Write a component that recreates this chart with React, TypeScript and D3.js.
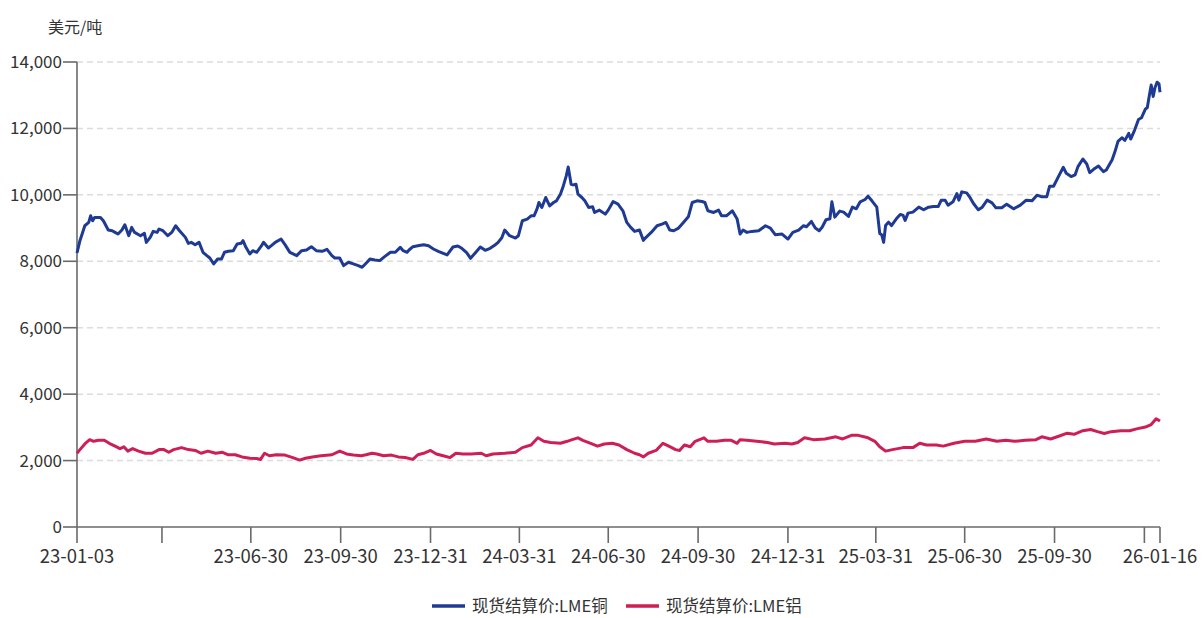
import React from "react";
import * as d3 from "d3";

// LME copper spot settlement, USD/t
const copperDates = [
  // 2023
  "23-01-03","23-01-06","23-01-11","23-01-15","23-01-17","23-01-19","23-01-21","23-01-27","23-01-30",
  "23-02-04","23-02-08","23-02-11","23-02-14","23-02-18","23-02-21","23-02-25","23-02-28",
  "23-03-03","23-03-09","23-03-13","23-03-15","23-03-19","23-03-22","23-03-26","23-03-28",
  "23-04-01","23-04-06","23-04-10","23-04-14","23-04-18","23-04-24","23-04-27","23-04-30",
  "23-05-04","23-05-08","23-05-12","23-05-16","23-05-19","23-05-23","23-05-27","23-05-31",
  "23-06-03","23-06-07","23-06-12","23-06-16","23-06-20","23-06-22","23-06-25","23-06-29",
  "23-07-02","23-07-06","23-07-11","23-07-13","23-07-18","23-07-21","23-07-25","23-07-31",
  "23-08-04","23-08-09","23-08-16","23-08-21","23-08-26","23-08-31",
  "23-09-05","23-09-11","23-09-16","23-09-21","23-09-24","23-09-29",
  "23-10-03","23-10-08","23-10-13","23-10-18","23-10-22","23-10-27","23-10-30",
  "23-11-04","23-11-09","23-11-14","23-11-20","23-11-25","23-11-30",
  "23-12-03","23-12-07","23-12-09","23-12-13","23-12-18","23-12-24","23-12-29",
  // 2024
  "24-01-03","24-01-08","24-01-17","24-01-23","24-01-28",
  "24-02-01","24-02-06","24-02-10","24-02-15","24-02-20","24-02-25",
  "24-03-01","24-03-06","24-03-09","24-03-13","24-03-16","24-03-21","24-03-27","24-03-30",
  "24-04-03","24-04-08","24-04-12","24-04-15","24-04-18","24-04-20","24-04-23","24-04-27",
  "24-05-01","24-05-05","24-05-08","24-05-12","24-05-15","24-05-18","24-05-20","24-05-23","24-05-25","24-05-28","24-05-30",
  "24-06-03","24-06-06","24-06-10","24-06-14","24-06-16","24-06-21","24-06-27","24-06-30",
  "24-07-05","24-07-10","24-07-15","24-07-19","24-07-23","24-07-27",
  "24-08-01","24-08-05","24-08-08","24-08-13","24-08-19","24-08-24","24-08-28",
  "24-09-01","24-09-05","24-09-10","24-09-15","24-09-20","24-09-24","24-09-29",
  "24-10-04","24-10-07","24-10-10","24-10-16","24-10-21","24-10-24","24-10-29",
  "24-11-04","24-11-09","24-11-12","24-11-15","24-11-19","24-11-24",
  "24-12-01","24-12-08","24-12-13","24-12-18","24-12-25","24-12-31",
  // 2025
  "25-01-05","25-01-11","25-01-16","25-01-19","25-01-24","25-01-28",
  "25-02-01","25-02-04","25-02-08","25-02-12","25-02-14","25-02-17","25-02-22","25-02-26",
  "25-03-03","25-03-07","25-03-11","25-03-15","25-03-20","25-03-23","25-03-27",
  "25-04-01","25-04-04","25-04-06","25-04-08","25-04-10","25-04-13","25-04-16","25-04-21","25-04-25","25-04-28","25-04-30",
  "25-05-03","25-05-08","25-05-14","25-05-19","25-05-24","25-05-29",
  "25-06-03","25-06-06","25-06-10","25-06-13","25-06-18","25-06-22","25-06-24","25-06-27",
  "25-07-02","25-07-05","25-07-09","25-07-14","25-07-18","25-07-23","25-07-28",
  "25-08-01","25-08-07","25-08-12","25-08-19","25-08-26",
  "25-09-01","25-09-07","25-09-12","25-09-17","25-09-22","25-09-25","25-09-29",
  "25-10-04","25-10-09","25-10-12","25-10-17","25-10-21","25-10-24","25-10-29",
  "25-11-02","25-11-05","25-11-09","25-11-14","25-11-19","25-11-22","25-11-28",
  "25-12-01","25-12-04","25-12-08","25-12-11","25-12-15","25-12-17","25-12-21","25-12-25","25-12-28",
  // 2026
  "26-01-01","26-01-03","26-01-05","26-01-07","26-01-09","26-01-11","26-01-13","26-01-15","26-01-16",
];

const copperValues = [
  // 2023
  8250,8620,9070,9170,9370,9220,9320,9320,9220,
  8940,8920,8870,8820,8940,9100,8770,9020,
  8870,8770,8840,8570,8720,8900,8870,8970,
  8920,8770,8870,9070,8920,8720,8540,8570,
  8500,8570,8270,8170,8100,7920,8070,8070,
  8270,8300,8320,8520,8540,8620,8420,8220,
  8320,8270,8470,8570,8400,8470,8570,8670,
  8500,8270,8170,8320,8340,8440,
  8320,8300,8360,8170,8100,8100,
  7870,7970,7920,7870,7820,7970,8070,
  8040,8020,8140,8270,8270,8420,
  8320,8270,8340,8440,8470,8500,8470,
  // 2024
  8370,8300,8190,8430,8460,
  8390,8260,8090,8260,8430,8330,
  8390,8490,8560,8710,8940,8770,8700,8770,
  9220,9270,9370,9370,9570,9770,9620,9920,
  9670,9770,9820,10020,10270,10570,10840,10320,10300,10320,10020,
  9920,9820,9620,9640,9470,9540,9420,9540,
  9800,9720,9520,9170,9020,8900,
  8940,8630,8730,8870,9070,9120,9170,
  8940,8920,9000,9170,9340,9770,9820,
  9800,9770,9520,9470,9540,9370,9370,
  9520,9270,8820,8940,8870,8900,
  8920,9070,9000,8800,8820,8670,
  // 2025
  8870,8940,9070,9040,9200,9000,
  8920,9025,9250,9280,9790,9330,9510,9480,
  9350,9630,9580,9790,9860,9960,9820,
  9630,8840,8800,8570,9075,9180,9075,9280,9410,9380,9230,
  9450,9480,9630,9550,9630,9650,
  9650,9840,9840,9690,9790,10040,9840,10090,
  10060,9940,9740,9550,9630,9840,9760,
  9610,9610,9720,9580,9690,
  9840,9820,9990,9940,9940,10260,10260,
  10550,10830,10650,10550,10600,10850,11080,
  10930,10670,10770,10870,10700,10750,11060,
  11310,11610,11720,11640,11850,11680,11950,12270,12320,
  // 2026
  12580,12630,12980,13310,12960,13240,13390,13340,13090,
];

// LME aluminium spot settlement, USD/t
const aluminumDates = [
  // 2023
  "23-01-03","23-01-06","23-01-11","23-01-16","23-01-20","23-01-25","23-01-31",
  "23-02-05","23-02-11","23-02-16","23-02-20","23-02-24",
  "23-03-01","23-03-07","23-03-14","23-03-21","23-03-28",
  "23-04-02","23-04-07","23-04-12","23-04-20","23-04-27",
  "23-05-04","23-05-10","23-05-17","23-05-25",
  "23-06-01","23-06-07","23-06-14","23-06-21","23-06-29",
  "23-07-06","23-07-10","23-07-14","23-07-19","23-07-26",
  "23-08-04","23-08-12","23-08-19","23-08-25",
  "23-09-01","23-09-10","23-09-21","23-09-29",
  "23-10-06","23-10-13","23-10-21","23-10-26",
  "23-11-01","23-11-06","23-11-13","23-11-21","23-11-28",
  "23-12-05","23-12-13","23-12-18","23-12-24","23-12-31",
  // 2024
  "24-01-06","24-01-13","24-01-20","24-01-26",
  "24-02-02","24-02-11","24-02-21","24-02-26",
  "24-03-04","24-03-16","24-03-27",
  "24-04-03","24-04-12","24-04-19","24-04-25",
  "24-05-02","24-05-12","24-05-19","24-05-24","24-05-30",
  "24-06-04","24-06-12","24-06-19","24-06-26",
  "24-07-04","24-07-11","24-07-19","24-07-27",
  "24-08-01","24-08-05","24-08-10","24-08-18","24-08-25","24-08-31",
  "24-09-07","24-09-11","24-09-16","24-09-22","24-09-27",
  "24-10-06","24-10-10","24-10-19","24-10-27",
  "24-11-03","24-11-09","24-11-12","24-11-19","24-11-29",
  "24-12-10","24-12-17","24-12-28",
  // 2025
  "25-01-04","25-01-10","25-01-17","25-01-26",
  "25-02-07","25-02-18","25-02-25",
  "25-03-06","25-03-13","25-03-23","25-03-30",
  "25-04-04","25-04-10","25-04-17","25-04-28",
  "25-05-08","25-05-15","25-05-22",
  "25-06-01","25-06-08","25-06-19","25-06-30",
  "25-07-11","25-07-22",
  "25-08-02","25-08-11","25-08-20","25-08-31",
  "25-09-11","25-09-17","25-09-26",
  "25-10-05","25-10-13","25-10-20","25-10-29",
  "25-11-06","25-11-13","25-11-20","25-11-27",
  "25-12-07","25-12-16","25-12-23",
  // 2026
  "26-01-01","26-01-07","26-01-12","26-01-16",
];

const aluminumValues = [
  // 2023
  2220,2330,2500,2630,2580,2610,2610,
  2520,2435,2360,2415,2285,
  2360,2285,2220,2220,2330,
  2330,2250,2330,2390,2330,
  2305,2220,2285,2220,
  2250,2175,2175,2110,2070,
  2060,2035,2220,2145,2175,
  2165,2090,2015,2070,
  2110,2145,2175,2285,
  2200,2165,2145,2175,
  2220,2200,2145,2165,2110,
  2090,2035,2175,2220,2305,
  // 2024
  2200,2145,2090,2220,
  2200,2200,2220,2145,
  2200,2220,2250,
  2390,2470,2685,2580,
  2545,2520,2580,2630,2685,
  2610,2520,2435,2500,
  2520,2470,2330,2220,
  2175,2110,2220,2305,2520,2435,
  2330,2305,2470,2415,2580,
  2685,2580,2580,2610,
  2610,2520,2630,2610,2580,
  2545,2500,2520,
  // 2025
  2500,2545,2685,2630,
  2650,2715,2650,
  2760,2760,2685,2580,
  2415,2285,2330,2390,
  2390,2520,2470,
  2470,2435,2520,2580,
  2580,2650,
  2580,2610,2580,2610,
  2630,2715,2650,
  2740,2825,2790,2900,
  2935,2870,2815,2870,
  2900,2900,2955,
  // 2026
  3010,3085,3260,3190,
];

const yTicks = [0, 2000, 4000, 6000, 8000, 10000, 12000, 14000];
const xTickDates = [
  "23-01-03","23-03-31","23-06-30","23-09-30","23-12-31","24-03-31","24-06-30",
  "24-09-30","24-12-31","25-03-31","25-06-30","25-09-30","25-12-31","26-01-16",
];
const xTickLabels = [
  "23-01-03","","23-06-30","23-09-30","23-12-31","24-03-31","24-06-30",
  "24-09-30","24-12-31","25-03-31","25-06-30","25-09-30","","26-01-16",
];
const seriesNames = ["现货结算价:LME铜", "现货结算价:LME铝"];
const unitLabel = "美元/吨";

const COPPER = "#1f3a93";
const ALUMINUM = "#cd1f55";
const AXIS = "#6a6a6a";
const TEXT = "#333333";
const FONT = "'Noto Sans CJK SC', 'Noto Sans', sans-serif";

const parse = d3.timeParse("%y-%m-%d");

type Pt = { date: Date; value: number };

const toPoints = (dates: string[], values: number[]): Pt[] =>
  dates.map((d, i) => ({ date: parse(d) as Date, value: values[i] }));

export default function App() {
  const W = 1202;
  const H = 618;
  const left = 77;
  const right = 1160;
  const top = 62;
  const bottom = 527;

  const x = d3
    .scaleTime()
    .domain([parse(xTickDates[0]) as Date, parse(xTickDates[xTickDates.length - 1]) as Date])
    .range([left, right]);
  const y = d3.scaleLinear().domain([0, 14000]).range([bottom, top]);

  const line = d3
    .line<Pt>()
    .x((d) => x(d.date))
    .y((d) => y(d.value));

  const copper = toPoints(copperDates, copperValues);
  const aluminum = toPoints(aluminumDates, aluminumValues);
  const fmt = d3.format(",");

  const legendY = 606;
  const legendItems = [
    { name: seriesNames[0], color: COPPER, x0: 432 },
    { name: seriesNames[1], color: ALUMINUM, x0: 626 },
  ];

  return (
    <svg
      width={W}
      height={H}
      style={{ position: "absolute", left: 0, top: 0, background: "#fff" }}
      fontFamily={FONT}
    >
      {/* unit */}
      <text x={48} y={33} fontSize={16} fill={TEXT}>
        {unitLabel}
      </text>

      {/* horizontal grid */}
      {yTicks
        .filter((t) => t > 0)
        .map((t) => (
          <line
            key={"g" + t}
            x1={left}
            x2={right}
            y1={y(t)}
            y2={y(t)}
            stroke="#dcdcdc"
            strokeWidth={1.5}
            strokeDasharray="6,4"
          />
        ))}

      {/* y axis */}
      <line x1={left} x2={left} y1={top} y2={bottom} stroke={AXIS} strokeWidth={1.6} />
      {yTicks.map((t) => (
        <g key={"y" + t}>
          <line x1={left - 14} x2={left} y1={y(t)} y2={y(t)} stroke={AXIS} strokeWidth={1.6} />
          <text
            x={left - 15}
            y={y(t)}
            dy="0.35em"
            textAnchor="end"
            fontSize={17}
            fill={TEXT}
          >
            {fmt(t)}
          </text>
        </g>
      ))}

      {/* x axis */}
      <line x1={left} x2={right} y1={bottom} y2={bottom} stroke={AXIS} strokeWidth={1.6} />
      {xTickDates.map((d, i) => {
        const px = x(parse(d) as Date);
        return (
          <g key={"x" + d}>
            <line x1={px} x2={px} y1={bottom} y2={bottom + 16} stroke={AXIS} strokeWidth={1.6} />
            {xTickLabels[i] && (
              <text x={px} y={563} textAnchor="middle" fontSize={18.5} fill={TEXT}>
                {xTickLabels[i]}
              </text>
            )}
          </g>
        );
      })}

      {/* series */}
      <path d={line(aluminum) || ""} fill="none" stroke={ALUMINUM} strokeWidth={3} strokeLinejoin="round" />
      <path d={line(copper) || ""} fill="none" stroke={COPPER} strokeWidth={3} strokeLinejoin="round" />

      {/* legend */}
      {legendItems.map((it) => (
        <g key={it.name}>
          <line x1={it.x0} x2={it.x0 + 33} y1={legendY} y2={legendY} stroke={it.color} strokeWidth={3.5} />
          <text x={it.x0 + 40} y={legendY} dy="0.35em" fontSize={16.5} fill={TEXT}>
            {it.name}
          </text>
        </g>
      ))}
    </svg>
  );
}
